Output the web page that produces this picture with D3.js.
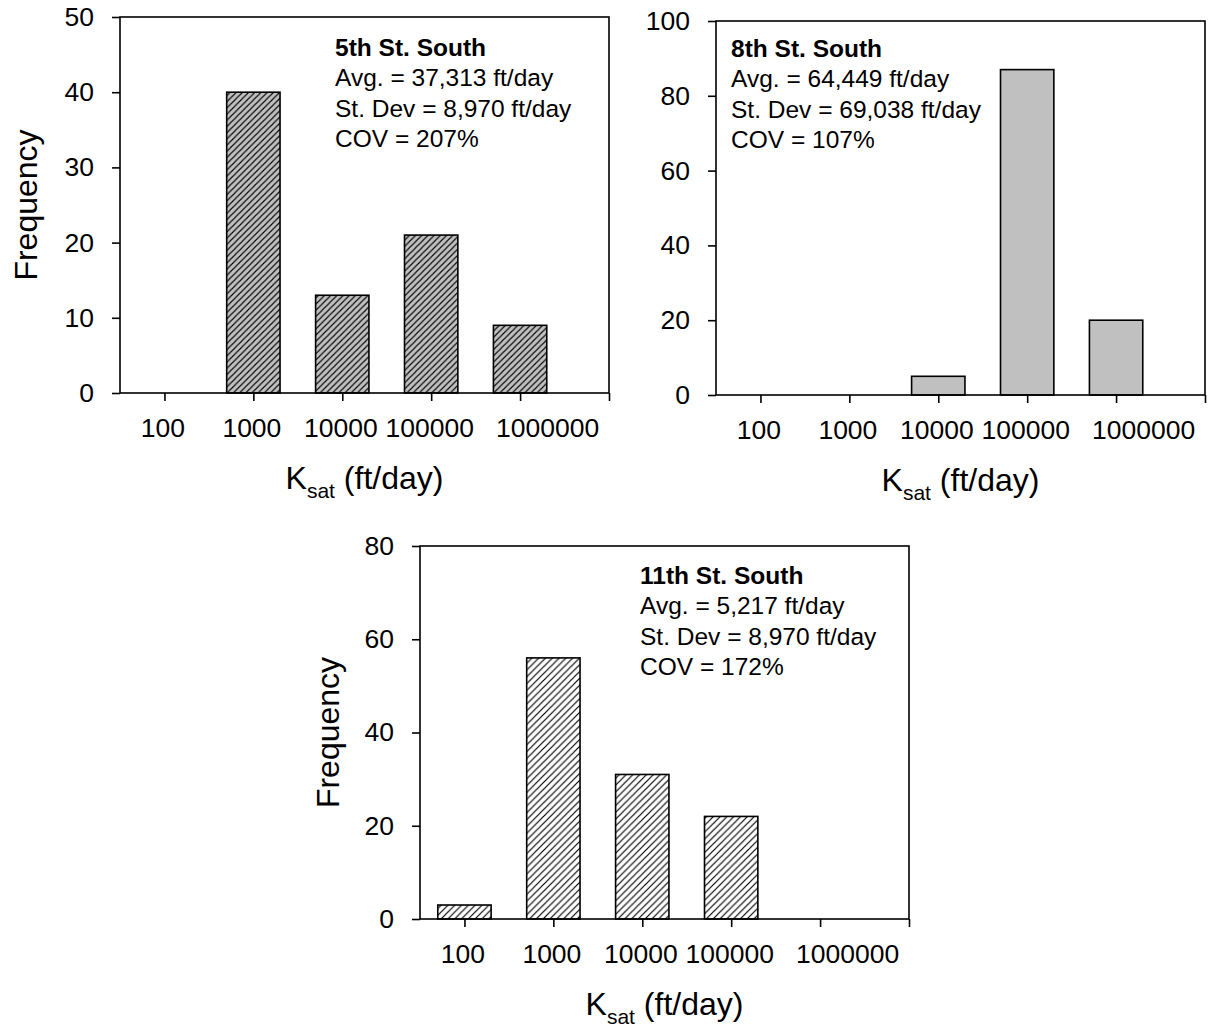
<!DOCTYPE html>
<html>
<head>
<meta charset="utf-8">
<script src="https://cdn.jsdelivr.net/npm/d3@7"></script>
<style>
  html, body { margin: 0; padding: 0; background: #fff; }
  svg { display: block; font-family: "Liberation Sans", Arial, sans-serif; }
</style>
</head>
<body>
<svg id="chart" width="1210" height="1029"></svg>
<script>
// ---- data ----
const categories = [100, 1000, 10000, 100000, 1000000];
const tickValues = [100, 1000, 10000, 100000, 1000000, 10000000];
const tickLabels = ["100", "1000", "10000", "100000", "1000000", ""];
const freq5th = [0, 40, 13, 21, 9];
const freq8th = [0, 0, 5, 87, 20];
const freq11th = [3, 56, 31, 22, 0];
const yTicks5th = [0, 10, 20, 30, 40, 50];
const yTicks8th = [0, 20, 40, 60, 80, 100];
const yTicks11th = [0, 20, 40, 60, 80];
const notes5th = ["5th St. South", "Avg. = 37,313 ft/day", "St. Dev = 8,970 ft/day", "COV = 207%"];
const notes8th = ["8th St. South", "Avg. = 64,449 ft/day", "St. Dev = 69,038 ft/day", "COV = 107%"];
const notes11th = ["11th St. South", "Avg. = 5,217 ft/day", "St. Dev = 8,970 ft/day", "COV = 172%"];

const svg = d3.select("#chart");
const defs = svg.append("defs");

function hatch(id, bg, w, sw) {
  const p = defs.append("pattern").attr("id", id)
    .attr("patternUnits", "userSpaceOnUse").attr("width", w).attr("height", w);
  p.append("rect").attr("width", w).attr("height", w).attr("fill", bg);
  p.append("path")
    .attr("d", `M0,${w} L${w},0 M${-w/2},${w/2} L${w/2},${-w/2} M${w/2},${w*1.5} L${w*1.5},${w/2}`)
    .attr("stroke", "#000").attr("stroke-width", sw);
}
hatch("hatchGray", "#c0c0c0", 6.2, 1.1);
hatch("hatchWhite", "#ffffff", 6.8, 1.2);

function panel(cfg) {
  const { left, right, top, bottom, values, yMax, yTicks, fill, notes, noteX, noteY, showYLabel, yLabelX } = cfg;
  const x = d3.scaleLog().domain([Math.pow(10, 1.5), Math.pow(10, 7)]).range([left, right]);
  const y = d3.scaleLinear().domain([0, yMax]).range([bottom, top]);
  const g = svg.append("g");

  // bars
  g.selectAll("rect.bar").data(categories.map((c, i) => ({ c, v: values[i] })).filter(d => d.v > 0))
    .enter().append("rect").attr("class", "bar")
    .attr("x", d => x(d.c / Math.pow(10, 0.3)))
    .attr("width", d => x(d.c * Math.pow(10, 0.3)) - x(d.c / Math.pow(10, 0.3)))
    .attr("y", d => y(d.v))
    .attr("height", d => y(0) - y(d.v))
    .attr("fill", fill).attr("stroke", "#000").attr("stroke-width", 1.6);

  // frame
  g.append("rect").attr("x", left).attr("y", top).attr("width", right - left).attr("height", bottom - top)
    .attr("fill", "none").attr("stroke", "#000").attr("stroke-width", 1.6);

  // y axis
  const ya = g.append("g").attr("transform", `translate(${left},0)`)
    .call(d3.axisLeft(y).tickValues(yTicks).tickSize(8).tickPadding(18).tickFormat(d3.format("d")));
  ya.select(".domain").remove();
  ya.selectAll("line").attr("stroke", "#000").attr("stroke-width", 1.6);
  ya.selectAll("text").attr("font-size", 26.5).attr("fill", "#000")
    .attr("font-family", "Liberation Sans, Arial, sans-serif");

  // x axis
  const xa = g.append("g").attr("transform", `translate(0,${bottom})`)
    .call(d3.axisBottom(x).tickValues(tickValues).tickSize(8).tickPadding(17)
      .tickFormat((d, i) => tickLabels[i]));
  xa.select(".domain").remove();
  xa.selectAll("line").attr("stroke", "#000").attr("stroke-width", 1.6);
  xa.selectAll("text").attr("font-size", 26.5).attr("fill", "#000")
    .attr("font-family", "Liberation Sans, Arial, sans-serif")
    .attr("dx", (d, i) => i === 4 ? 27 : -2);

  // x axis title
  const xt = g.append("text").attr("x", (left + right) / 2).attr("y", bottom + 96)
    .attr("text-anchor", "middle").attr("font-size", 32).attr("fill", "#000");
  xt.append("tspan").text("K");
  xt.append("tspan").attr("font-size", 21).attr("dy", 9).text("sat");
  xt.append("tspan").attr("dy", -9).text(" (ft/day)");

  // y axis title
  if (showYLabel) {
    g.append("text").attr("transform", `translate(${yLabelX},${(top + bottom) / 2}) rotate(-90)`)
      .attr("text-anchor", "middle").attr("font-size", 32).attr("fill", "#000").text("Frequency");
  }

  // annotation
  notes.forEach((t, i) => {
    g.append("text").attr("x", noteX).attr("y", noteY + i * 30.3)
      .attr("font-size", 24.5).attr("font-weight", i === 0 ? "bold" : "normal")
      .attr("fill", "#000").text(t);
  });
}

panel({ left: 120, right: 609, top: 17, bottom: 393, values: freq5th, yMax: 50, yTicks: yTicks5th,
  fill: "url(#hatchGray)", notes: notes5th, noteX: 335, noteY: 56, showYLabel: true, yLabelX: 37 });
panel({ left: 716, right: 1205, top: 21, bottom: 395, values: freq8th, yMax: 100, yTicks: yTicks8th,
  fill: "#c0c0c0", notes: notes8th, noteX: 731, noteY: 57, showYLabel: false });
panel({ left: 420, right: 909, top: 546, bottom: 919, values: freq11th, yMax: 80, yTicks: yTicks11th,
  fill: "url(#hatchWhite)", notes: notes11th, noteX: 640, noteY: 584, showYLabel: true, yLabelX: 339 });
</script>
</body>
</html>
